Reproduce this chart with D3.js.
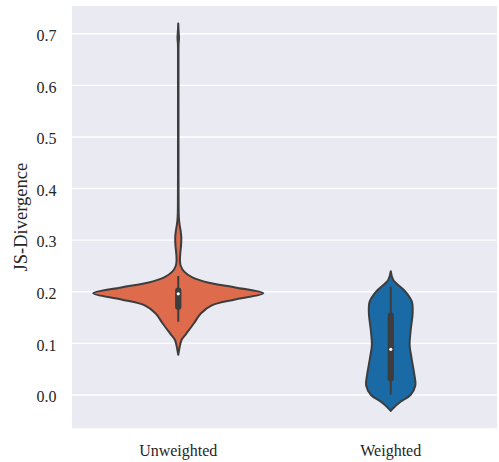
<!DOCTYPE html>
<head>
  <meta charset="utf-8">
  <title>JS-Divergence violins</title>
  <script src="https://d3js.org/d3.v7.min.js"></script>
  <style>
    body { margin: 0px; background: white; }
    text { font-family: "Liberation Serif", serif; fill: #262626; }
    .tick text { font-size: 16px; }
    .xlab { font-size: 17.5px; }
    .ylab { font-size: 18.5px; }
  </style>
</head>
<body>
  <svg width="499" height="462"></svg>
  <script>
    // categories + colours
    var categories = ["Unweighted", "Weighted"];
    var colors = ["#dd6b4c", "#1a6aa6"];
    var yTicks = [0.0, 0.1, 0.2, 0.3, 0.4, 0.5, 0.6, 0.7];

    // violin outlines: [value, relative half-width]
    var unweightedDensity = [
      [0.078, 0], [0.085, 0.008], [0.094, 0.018], [0.107, 0.04], [0.119, 0.095],
      [0.139, 0.185], [0.158, 0.265], [0.174, 0.40], [0.185, 0.67], [0.197, 1.0],
      [0.2085, 0.67], [0.2176, 0.36], [0.228, 0.165], [0.239, 0.07], [0.25, 0.03],
      [0.26, 0.02], [0.275, 0.024], [0.29, 0.033], [0.305, 0.036], [0.318, 0.028],
      [0.33, 0.016], [0.345, 0.007], [0.37, 0.004], [0.45, 0.003], [0.55, 0.003],
      [0.65, 0.003], [0.68, 0.004], [0.692, 0.009], [0.705, 0.004], [0.72, 0]
    ];
    var weightedDensity = [
      [-0.031, 0], [-0.026, 0.025], [-0.013, 0.115], [0.0, 0.232], [0.019, 0.29],
      [0.039, 0.278], [0.071, 0.245], [0.097, 0.222], [0.123, 0.233], [0.161, 0.258],
      [0.181, 0.248], [0.2, 0.175], [0.223, 0.03], [0.240, 0]
    ];
    var densities = [unweightedDensity, weightedDensity];

    // box stats: [whiskerLow, q1, median, q3, whiskerHigh]
    var boxStats = [
      [0.142, 0.171, 0.196, 0.202, 0.2306],
      [0.001, 0.032, 0.0885, 0.1537, 0.21]
    ];

    var svg = d3.select("svg");
    var plot = { left: 72, right: 497, top: 6, bottom: 428.3 };

    var x = d3.scaleBand().domain(categories).range([plot.left, plot.right]);
    var y = d3.scaleLinear().domain([-0.0645, 0.7537]).range([plot.bottom, plot.top]);
    var w = d3.scaleLinear().domain([0, 1]).range([0, x.step() * 0.4]);

    svg.append("rect")
      .attr("x", plot.left).attr("y", plot.top)
      .attr("width", plot.right - plot.left)
      .attr("height", plot.bottom - plot.top)
      .attr("fill", "#eaeaf2");

    // horizontal grid
    svg.append("g").selectAll("line")
      .data(yTicks).enter().append("line")
      .attr("x1", plot.left).attr("x2", plot.right)
      .attr("y1", function(d) { return y(d); })
      .attr("y2", function(d) { return y(d); })
      .attr("stroke", "white").attr("stroke-width", 1.4);

    // y axis
    var yAxis = d3.axisLeft(y).tickValues(yTicks).tickFormat(d3.format(".1f")).tickSize(0).tickPadding(15.5);
    var gy = svg.append("g").attr("transform", "translate(" + plot.left + ",0)").call(yAxis);
    gy.select(".domain").remove();
    gy.selectAll("text").attr("dy", "0.42em");

    // x axis
    var xAxis = d3.axisBottom(x).tickSize(0).tickPadding(16.5);
    var gx = svg.append("g").attr("transform", "translate(0," + plot.bottom + ")").call(xAxis);
    gx.select(".domain").remove();
    gx.selectAll("text").attr("class", "xlab").attr("dy", "0.71em");

    svg.append("text")
      .attr("class", "ylab")
      .attr("transform", "translate(27," + ((plot.top + plot.bottom) / 2) + ") rotate(-90)")
      .attr("text-anchor", "middle")
      .text("JS-Divergence");

    // violins
    categories.forEach(function(cat, i) {
      var cx = x(cat) + x.bandwidth() / 2;
      var area = d3.area()
        .curve(d3.curveCatmullRom)
        .y(function(d) { return y(d[0]); })
        .x0(function(d) { return cx - w(d[1]); })
        .x1(function(d) { return cx + w(d[1]); });

      svg.append("path")
        .datum(densities[i])
        .attr("d", area)
        .attr("fill", colors[i])
        .attr("stroke", "#3d3d3d")
        .attr("stroke-width", 2)
        .attr("stroke-linejoin", "round");

      var s = boxStats[i];
      svg.append("line")
        .attr("x1", cx).attr("x2", cx)
        .attr("y1", y(s[0])).attr("y2", y(s[4]))
        .attr("stroke", "#3d3d3d").attr("stroke-width", 2);
      svg.append("line")
        .attr("x1", cx).attr("x2", cx)
        .attr("y1", y(s[1])).attr("y2", y(s[3]))
        .attr("stroke", "#3d3d3d").attr("stroke-width", 6.3)
        .attr("stroke-linecap", "round");
      svg.append("circle")
        .attr("cx", cx).attr("cy", y(s[2]))
        .attr("r", 1.6)
        .attr("fill", "white");
    });
  </script>
</body>
</html>
